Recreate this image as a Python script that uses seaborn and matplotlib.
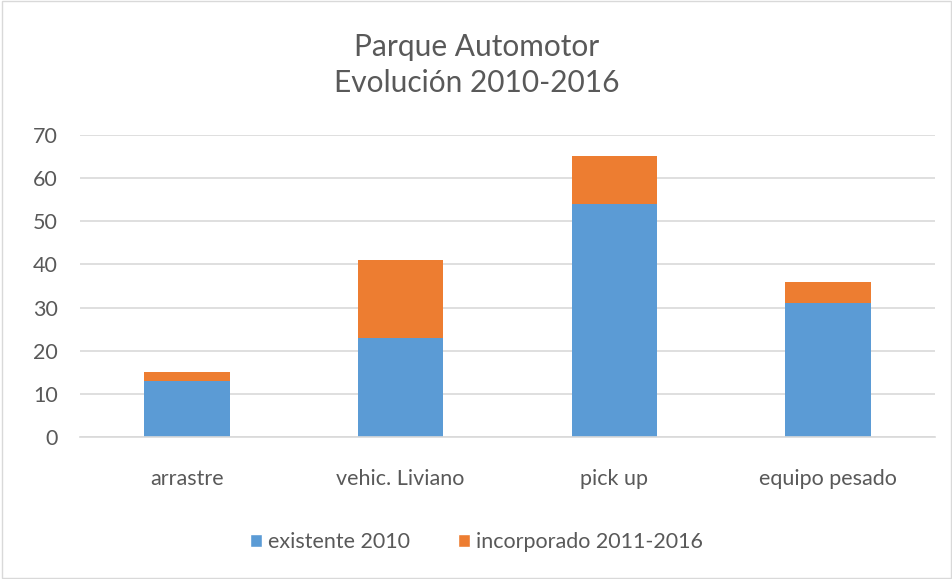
import matplotlib
matplotlib.use("Agg")
import matplotlib.pyplot as plt
import seaborn as sns
import pandas as pd
from matplotlib.patches import Patch, Rectangle

categories = ["arrastre", "vehic. Liviano", "pick up", "equipo pesado"]
existente_2010 = [13, 23, 54, 31]
incorporado_2011_2016 = [2, 18, 11, 5]
series_names = ["existente 2010", "incorporado 2011-2016"]
colors = ["#5B9BD5", "#ED7D31"]

sns.set_theme(style="white")
plt.rcParams['font.family'] = ['Lato', 'DejaVu Sans']
text_color = "#595959"

df = pd.DataFrame({
    "cat": categories,
    "base": existente_2010,
    "total": [a + b for a, b in zip(existente_2010, incorporado_2011_2016)],
})

fig = plt.figure(figsize=(9.53, 5.79), dpi=100)
ax = fig.add_axes([0.084, 0.245, 0.897, 0.522])

sns.barplot(data=df, x="cat", y="total", color=colors[1], width=0.4,
            saturation=1, ax=ax, edgecolor="none")
sns.barplot(data=df, x="cat", y="base", color=colors[0], width=0.4,
            saturation=1, ax=ax, edgecolor="none")

ax.set_ylim(0, 70)
ax.set_yticks(range(0, 71, 10))
ax.set_xlim(-0.5, 3.5)
ax.grid(axis="y", color="#D9D9D9", linewidth=1.2)
ax.set_axisbelow(True)
for s in ["top", "right", "left"]:
    ax.spines[s].set_visible(False)
ax.spines["bottom"].set_color("#D9D9D9")
ax.spines["bottom"].set_linewidth(1.2)
ax.set_xlabel("")
ax.set_ylabel("")
ax.tick_params(axis="both", length=0, labelsize=15.5, colors=text_color)
ax.tick_params(axis="y", pad=16)
ax.tick_params(axis="x", pad=23)

fig.text(0.5, 0.918, "Parque Automotor", ha="center", va="center",
         fontsize=21.5, color=text_color)
fig.text(0.5, 0.856, "Evolución 2010-2016", ha="center", va="center",
         fontsize=21.5, color=text_color)

handles = [Patch(facecolor=c, label=n) for c, n in zip(colors, series_names)]
fig.legend(handles=handles, loc="center", bbox_to_anchor=(0.5, 0.064), ncol=2,
           frameon=False, fontsize=15.5, labelcolor=text_color,
           handlelength=0.55, handleheight=0.55, columnspacing=2.2, handletextpad=0.3)

fig.patches.append(Rectangle((0.002, 0.002), 0.996, 0.996, transform=fig.transFigure,
                             fill=False, edgecolor="#D9D9D9", linewidth=1))

fig.savefig("out.png", dpi=100)
